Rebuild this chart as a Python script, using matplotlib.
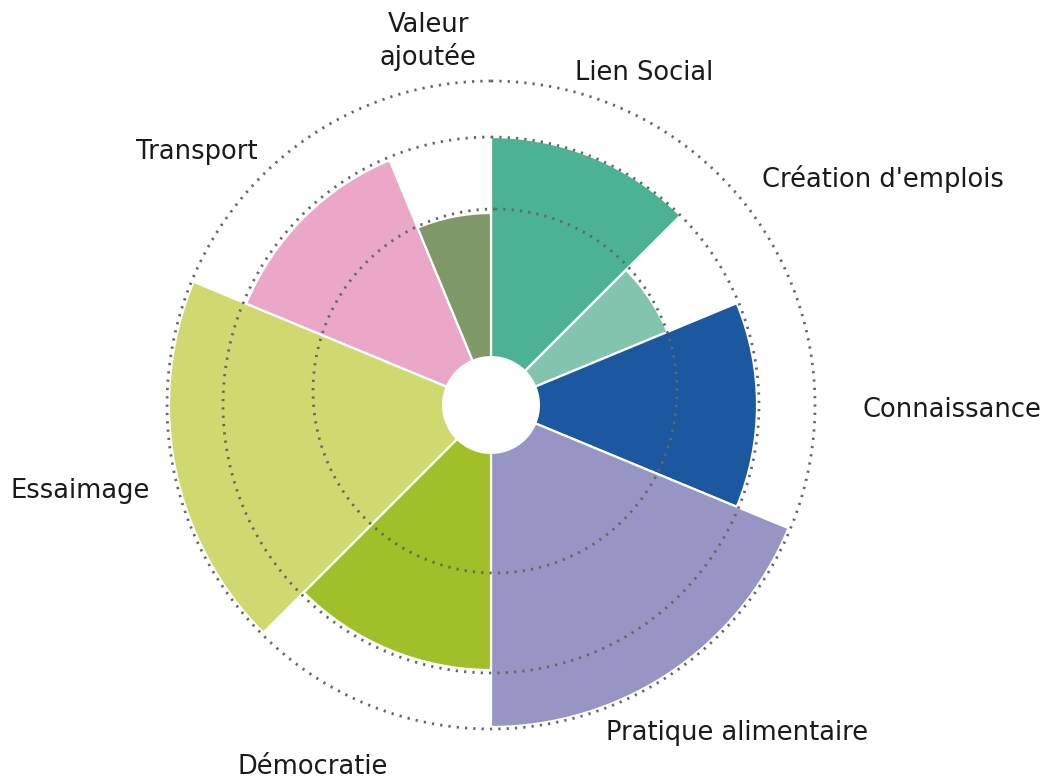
import numpy as np
import matplotlib
matplotlib.use("Agg")
import matplotlib.pyplot as plt

# ---- data ----
categories = ["Lien Social", "Création d'emplois", "Connaissance", "Pratique alimentaire",
              "Démocratie", "Essaimage", "Transport", "Valeur\najoutée"]
values = [2.68, 1.91, 2.66, 3.22, 2.65, 3.22, 2.65, 1.92]       # outer radius of each sector
spans_deg = [45, 22.5, 45, 67.5, 45, 67.5, 45, 22.5]            # angular width of each sector
colors = ["#4bb394", "#82c4ad", "#1c58a0", "#9795c4",
          "#a0c02a", "#cfd96f", "#eba7c8", "#7f9868"]

# ---- layout ----
hole_r = 0.49
grid_r = [3.24, 2.68]
inner_grid = (0.04, 0.14, 1.82)   # slightly off-centre dotted circle (dx, dy, r)
label_pos = [(24.8, 3.66), (60.0, 4.52), (90.6, 4.61), (143.1, 4.10),
             (206.2, 4.03), (258.2, 4.20), (310.7, 3.88), (350.2, 3.69)]

W, H = 1042, 778
cx, cy = 491, 405      # centre, pixels from top
R = 350                # axes radius in pixels
fig = plt.figure(figsize=(W / 100, H / 100), dpi=100)
ax = fig.add_axes([(cx - R) / W, (H - cy - R) / H, 2 * R / W, 2 * R / H], projection="polar")
ax.set_theta_zero_location("N")
ax.set_theta_direction(-1)
ax.set_ylim(0, 3.5)
ax.set_axis_off()

starts = np.radians(np.concatenate([[0], np.cumsum(spans_deg)[:-1]]))
widths = np.radians(spans_deg)
ax.bar(starts, values, width=widths, align="edge", color=colors,
       edgecolor="white", linewidth=1.6, zorder=2)

dot_style = dict(color="#666666", linewidth=2.0, linestyle=(0, (0.8, 2.2)), zorder=3)
t = np.linspace(0, 2 * np.pi, 720)
for r in grid_r:
    ax.plot(t, np.full_like(t, r), **dot_style)
dx, dy, rr = inner_grid
X = dx + rr * np.sin(t)
Y = dy + rr * np.cos(t)
ax.plot(np.arctan2(X, Y), np.hypot(X, Y), **dot_style)

ax.bar(0, hole_r, width=2 * np.pi, bottom=0, color="white", linewidth=0, zorder=4)

for lab, (th, r) in zip(categories, label_pos):
    ax.text(np.radians(th), r, lab, ha="center", va="center", fontsize=18.5,
            color="#1a1a1a", family="DejaVu Sans", linespacing=1.25)

fig.savefig("out.png", dpi=100)
